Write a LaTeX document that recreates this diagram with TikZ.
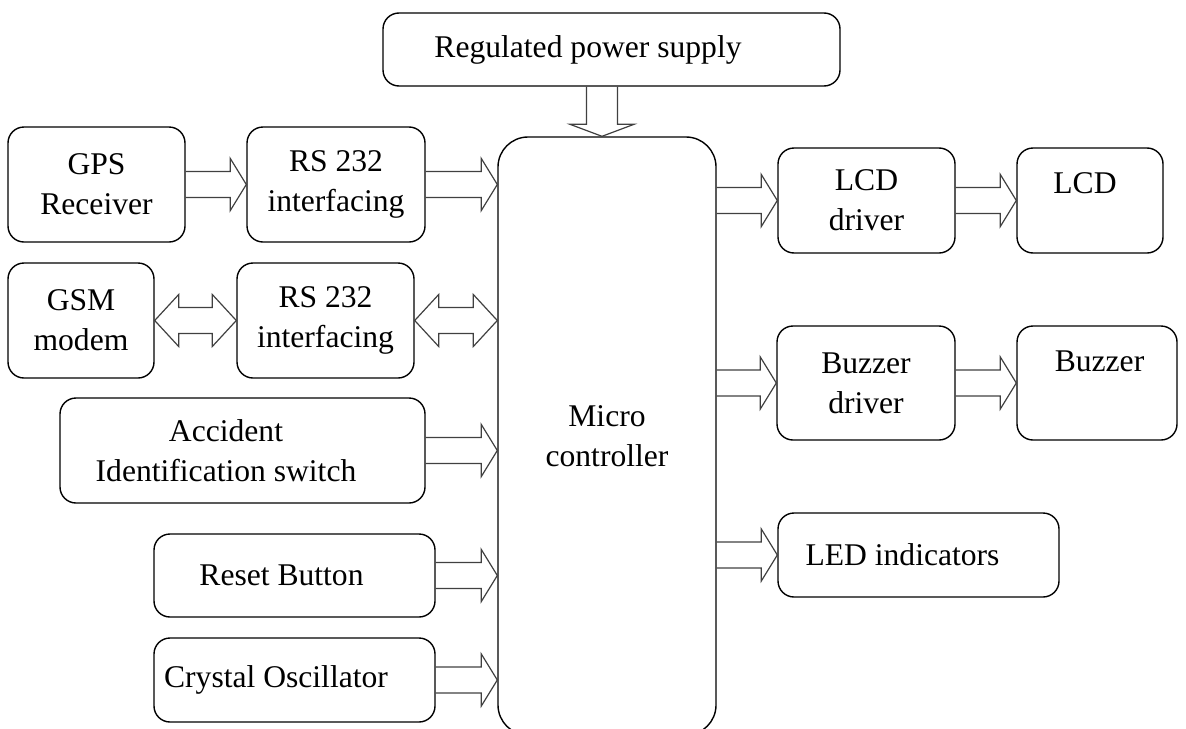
\documentclass[tikz,border=0pt]{standalone}
\usepackage{fontspec}
\setmainfont{Liberation Serif}
\usetikzlibrary{calc}

% hollow block arrows: shaft 6.5pt, head 13pt half width
\newcommand{\fatarrow}[2]{%
  \draw[fatline] let \p1=(#1), \p2=(#2) in
    (\x1,\y2+6.5pt) -- (\x2-8pt,\y2+6.5pt) -- (\x2-8pt,\y2+13pt) -- (\x2,\y2)
    -- (\x2-8pt,\y2-13pt) -- (\x2-8pt,\y2-6.5pt) -- (\x1,\y2-6.5pt);}
\newcommand{\dblarrow}[2]{%
  \draw[fatline] let \p1=(#1), \p2=(#2) in
    (\x1,\y1) -- (\x1+12pt,\y1+13pt) -- (\x1+12pt,\y1+6.5pt) -- (\x2-12pt,\y1+6.5pt)
    -- (\x2-12pt,\y1+13pt) -- (\x2,\y1) -- (\x2-12pt,\y1-13pt) -- (\x2-12pt,\y1-6.5pt)
    -- (\x1+12pt,\y1-6.5pt) -- (\x1+12pt,\y1-13pt) -- cycle;}
\newcommand{\fatdown}[2]{%
  \draw[fatline] let \p1=(#1), \p2=(#2) in
    (\x2-7.75pt,\y1) -- (\x2-7.75pt,\y2+6pt) -- (\x2-16pt,\y2+6pt) -- (\x2,\y2)
    -- (\x2+16pt,\y2+6pt) -- (\x2+7.75pt,\y2+6pt) -- (\x2+7.75pt,\y1);}

\begin{document}
\begin{tikzpicture}[
  x=0.5pt, y=-0.5pt,
  font=\fontsize{15.8}{20}\selectfont,
  blk/.style={draw=black, line width=0.7pt, rounded corners=8pt, align=center, inner sep=0pt},
  txt/.style={align=center, inner sep=0pt},
  fatline/.style={draw=black!75, line width=0.6pt, line join=miter}
]
\useasboundingbox (0,0) rectangle (1186,728);

% --- Power supply and controller ---
\node[blk, minimum width=228.5pt, minimum height=36.5pt,
  label={[txt, xshift=-11.75pt]center:Regulated power supply}] (psu) at (611.5,49.5) {};
\node[blk, rounded corners=15pt, minimum width=109pt, minimum height=299pt] (mc) at (607,436) {Micro\\controller};

% --- Inputs (left) ---
\node[blk, minimum width=88.5pt, minimum height=57.5pt] (gps) at (96.5,184.5) {GPS\\Receiver};
\node[blk, minimum width=89pt, minimum height=57.5pt] (rsa) at (336,184.5) {RS 232\\interfacing};
\node[blk, minimum width=73pt, minimum height=57.5pt] (gsm) at (81,320.5) {GSM\\modem};
\node[blk, minimum width=88.5pt, minimum height=57.5pt] (rsb) at (325.5,320.5) {RS 232\\interfacing};
\node[blk, minimum width=182.5pt, minimum height=52.5pt,
  label={[txt, xshift=-8.25pt]center:Accident\\Identification switch}] (acc) at (242.5,450.5) {};
\node[blk, minimum width=140.5pt, minimum height=41.5pt,
  label={[txt, xshift=-6.5pt]center:Reset Button}] (rst) at (294.5,575.5) {};
\node[blk, minimum width=140.5pt, minimum height=42pt,
  label={[txt, xshift=-9.25pt]center:Crystal Oscillator}] (xtal) at (294.5,680) {};

% --- Outputs (right) ---
\node[blk, minimum width=88.5pt, minimum height=52.5pt] (lcdd) at (866.5,200.5) {LCD\\driver};
\node[blk, minimum width=73pt, minimum height=52.5pt,
  label={[txt, xshift=-2.5pt, yshift=8.75pt]center:LCD}] (lcd) at (1090,200.5) {};
\node[blk, minimum width=89pt, minimum height=57pt] (bzd) at (866,383) {Buzzer\\driver};
\node[blk, minimum width=80pt, minimum height=57pt,
  label={[txt, xshift=1.25pt, yshift=11pt]center:Buzzer}] (bz) at (1097,383) {};
\node[blk, minimum width=140.5pt, minimum height=42pt,
  label={[txt, xshift=-8pt]center:LED indicators}] (led) at (918.5,555) {};

% --- Block arrows ---
\fatdown{psu.south}{[xshift=-2.5pt]mc.north}
\fatarrow{gps.east}{rsa.west}
\fatarrow{rsa.east}{mc.west |- rsa.east}
\dblarrow{gsm.east}{rsb.west}
\dblarrow{rsb.east}{mc.west |- rsb.east}
\fatarrow{acc.east}{mc.west |- acc.east}
\fatarrow{rst.east}{mc.west |- rst.east}
\fatarrow{xtal.east}{mc.west |- xtal.east}
\fatarrow{mc.east |- lcdd.west}{lcdd.west}
\fatarrow{lcdd.east}{lcd.west}
\fatarrow{mc.east |- bzd.west}{bzd.west}
\fatarrow{bzd.east}{bz.west}
\fatarrow{mc.east |- led.west}{led.west}

\end{tikzpicture}
\end{document}
